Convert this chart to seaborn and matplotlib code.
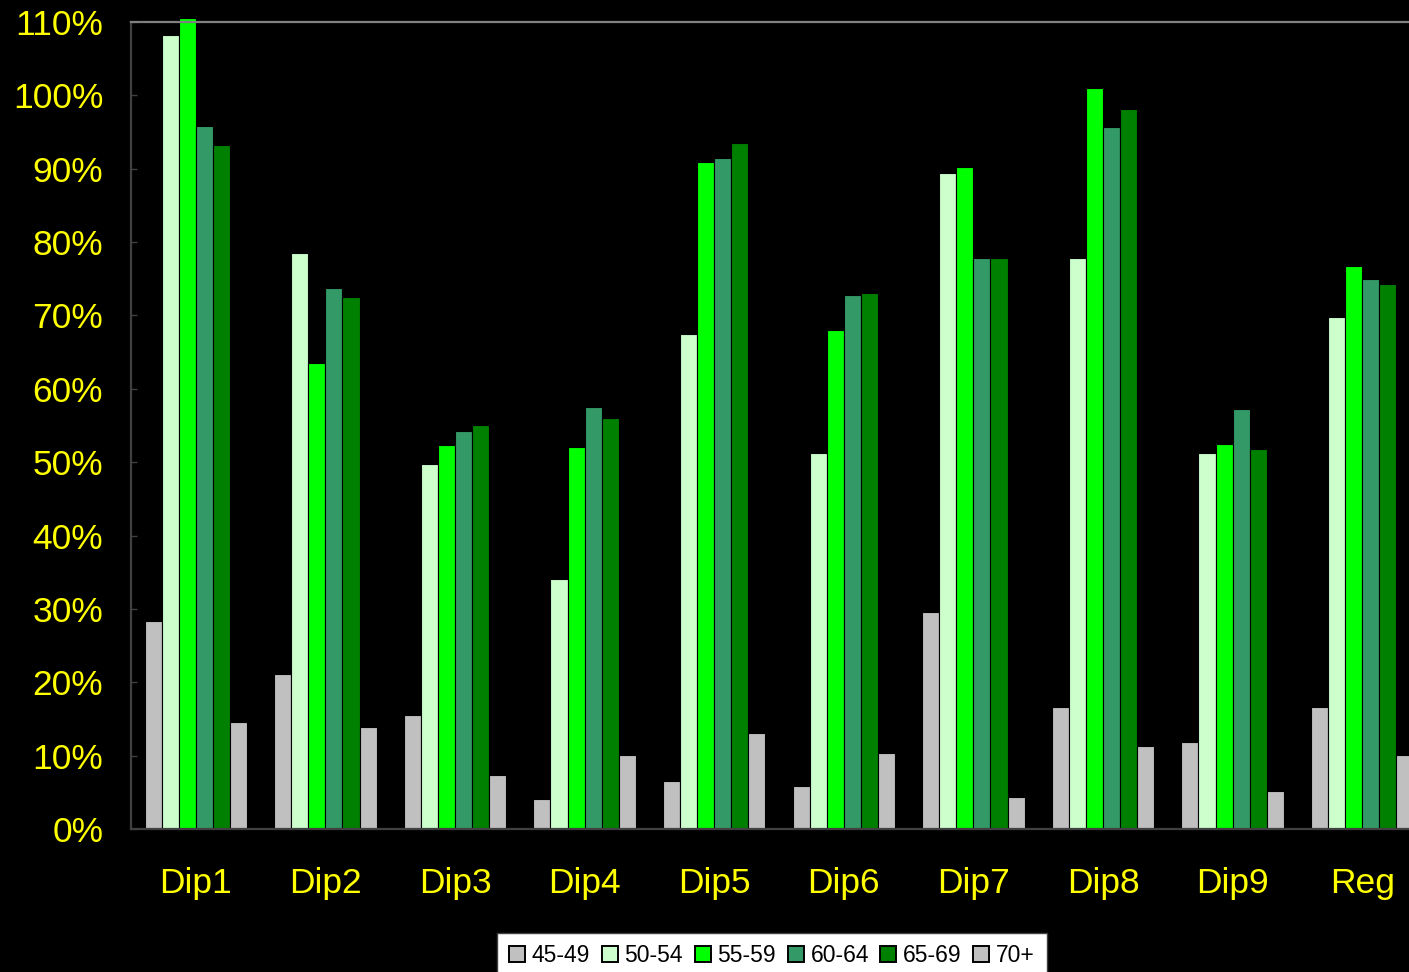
import matplotlib
matplotlib.use('Agg')
import matplotlib.pyplot as plt
import seaborn as sns
import pandas as pd
from matplotlib.ticker import PercentFormatter

# data (fraction of 1)
groups = ['Dip1', 'Dip2', 'Dip3', 'Dip4', 'Dip5', 'Dip6', 'Dip7', 'Dip8', 'Dip9', 'Reg']
ages = ['45-49', '50-54', '55-59', '60-64', '65-69', '70+']
v_45_49 = [0.284, 0.211, 0.155, 0.041, 0.065, 0.059, 0.296, 0.166, 0.119, 0.166]
v_50_54 = [1.082, 0.785, 0.498, 0.341, 0.675, 0.513, 0.894, 0.778, 0.513, 0.698]
v_55_59 = [1.105, 0.635, 0.523, 0.521, 0.909, 0.680, 0.902, 1.010, 0.525, 0.767]
v_60_64 = [0.958, 0.737, 0.543, 0.575, 0.915, 0.728, 0.778, 0.957, 0.573, 0.750]
v_65_69 = [0.932, 0.725, 0.551, 0.560, 0.935, 0.731, 0.778, 0.981, 0.518, 0.743]
v_70_plus = [0.146, 0.139, 0.074, 0.101, 0.131, 0.104, 0.044, 0.113, 0.052, 0.101]
colors = ['#C0C0C0', '#CCFFCC', '#00FF00', '#339966', '#008000', '#C0C0C0']

series = [v_45_49, v_50_54, v_55_59, v_60_64, v_65_69, v_70_plus]
rows = []
for age, vals in zip(ages, series):
    for g, v in zip(groups, vals):
        rows.append({'group': g, 'age': age, 'value': v})
df = pd.DataFrame(rows)

sns.set_style('dark')
plt.rcParams['font.family'] = ['Liberation Sans', 'DejaVu Sans']

fig = plt.figure(figsize=(14.09, 9.72), dpi=100, facecolor='black')
ax = fig.add_axes([131 / 1409, 1 - 829 / 972, (1427 - 131) / 1409, 807 / 972])
ax.set_facecolor('black')

sns.barplot(data=df, x='group', y='value', hue='age', order=groups, hue_order=ages,
            palette=dict(zip(ages, colors)), width=0.79, edgecolor='black',
            linewidth=0.8, errorbar=None, ax=ax, saturation=1)
for p in ax.patches:
    p.set_clip_on(False)

ax.set_xlim(-0.5, 9.5)
ax.set_ylim(0, 1.10)
ax.set_yticks([i / 10 for i in range(12)])
ax.yaxis.set_major_formatter(PercentFormatter(1.0, decimals=0))
ax.set_xlabel('')
ax.set_ylabel('')
ax.grid(False)

ax.tick_params(axis='y', colors='#404040', labelcolor='#FFFF00', labelsize=25.5,
               direction='in', length=4, width=1, pad=20, left=True)
ax.tick_params(axis='x', labelcolor='#FFFF00', labelsize=25.5, length=0, pad=27)

for side in ['left', 'bottom']:
    ax.spines[side].set_color('#404040')
    ax.spines[side].set_linewidth(1.6)
ax.spines['top'].set_color('#808080')
ax.spines['top'].set_linewidth(1.6)
ax.spines['right'].set_visible(False)

handles, labels = ax.get_legend_handles_labels()
ax.get_legend().remove()
leg = fig.legend(handles, labels, loc='upper center', bbox_to_anchor=(772 / 1409, 1 - 933 / 972),
                 ncol=6, fontsize=16.5, frameon=True, fancybox=False, facecolor='white',
                 framealpha=1, edgecolor='#404040', handlelength=0.7, handleheight=0.7,
                 handletextpad=0.3, columnspacing=0.5, borderpad=0.5, borderaxespad=0)
leg.get_frame().set_linewidth(1)
for h in leg.legend_handles:
    h.set_edgecolor('black')
    h.set_linewidth(1.4)
for t in leg.get_texts():
    t.set_color('black')

fig.savefig('out.png', dpi=100, facecolor='black')
